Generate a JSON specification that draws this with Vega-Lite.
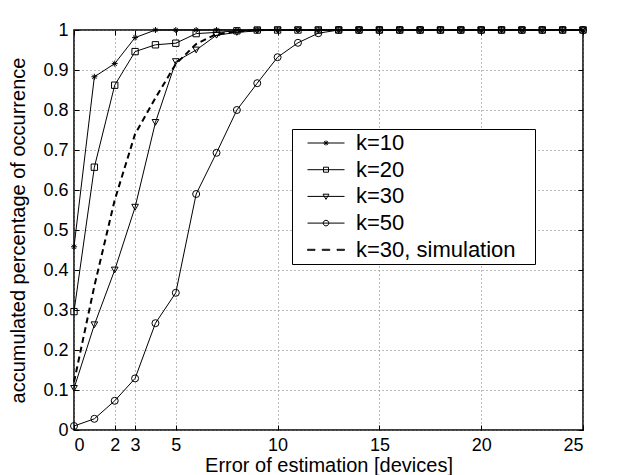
{
  "$schema": "https://vega.github.io/schema/vega-lite/v6.json",
  "width": 509,
  "height": 400,
  "autosize": "none",
  "padding": {"left": 74, "top": 30, "right": 35, "bottom": 45},
  "background": "white",
  "config": {
    "font": "Liberation Sans",
    "view": {"stroke": "black", "strokeWidth": 1.5},
    "axis": {
      "domain": false,
      "labelFontSize": 18,
      "labelColor": "black",
      "titleFontSize": 20,
      "titleFontWeight": "normal",
      "titleColor": "black",
      "tickColor": "black",
      "tickSize": -5,
      "gridColor": "#777",
      "gridDash": [1, 3],
      "gridWidth": 1
    }
  },
  "data": {
    "values": [
      {"s":"k=10","x":0,"y":0.458},{"s":"k=10","x":1,"y":0.883},{"s":"k=10","x":2,"y":0.916},{"s":"k=10","x":3,"y":0.981},{"s":"k=10","x":4,"y":1},{"s":"k=10","x":5,"y":1},{"s":"k=10","x":6,"y":1},{"s":"k=10","x":7,"y":1},{"s":"k=10","x":8,"y":1},{"s":"k=10","x":9,"y":1},{"s":"k=10","x":10,"y":1},{"s":"k=10","x":11,"y":1},{"s":"k=10","x":12,"y":1},{"s":"k=10","x":13,"y":1},{"s":"k=10","x":14,"y":1},{"s":"k=10","x":15,"y":1},{"s":"k=10","x":16,"y":1},{"s":"k=10","x":17,"y":1},{"s":"k=10","x":18,"y":1},{"s":"k=10","x":19,"y":1},{"s":"k=10","x":20,"y":1},{"s":"k=10","x":21,"y":1},{"s":"k=10","x":22,"y":1},{"s":"k=10","x":23,"y":1},{"s":"k=10","x":24,"y":1},{"s":"k=10","x":25,"y":1},
      {"s":"k=20","x":0,"y":0.296},{"s":"k=20","x":1,"y":0.657},{"s":"k=20","x":2,"y":0.862},{"s":"k=20","x":3,"y":0.946},{"s":"k=20","x":4,"y":0.963},{"s":"k=20","x":5,"y":0.967},{"s":"k=20","x":6,"y":0.991},{"s":"k=20","x":7,"y":0.994},{"s":"k=20","x":8,"y":0.998},{"s":"k=20","x":9,"y":1},{"s":"k=20","x":10,"y":1},{"s":"k=20","x":11,"y":1},{"s":"k=20","x":12,"y":1},{"s":"k=20","x":13,"y":1},{"s":"k=20","x":14,"y":1},{"s":"k=20","x":15,"y":1},{"s":"k=20","x":16,"y":1},{"s":"k=20","x":17,"y":1},{"s":"k=20","x":18,"y":1},{"s":"k=20","x":19,"y":1},{"s":"k=20","x":20,"y":1},{"s":"k=20","x":21,"y":1},{"s":"k=20","x":22,"y":1},{"s":"k=20","x":23,"y":1},{"s":"k=20","x":24,"y":1},{"s":"k=20","x":25,"y":1},
      {"s":"k=30","x":0,"y":0.104},{"s":"k=30","x":1,"y":0.263},{"s":"k=30","x":2,"y":0.4},{"s":"k=30","x":3,"y":0.557},{"s":"k=30","x":4,"y":0.769},{"s":"k=30","x":5,"y":0.921},{"s":"k=30","x":6,"y":0.95},{"s":"k=30","x":7,"y":0.987},{"s":"k=30","x":8,"y":0.994},{"s":"k=30","x":9,"y":0.998},{"s":"k=30","x":10,"y":1},{"s":"k=30","x":11,"y":1},{"s":"k=30","x":12,"y":1},{"s":"k=30","x":13,"y":1},{"s":"k=30","x":14,"y":1},{"s":"k=30","x":15,"y":1},{"s":"k=30","x":16,"y":1},{"s":"k=30","x":17,"y":1},{"s":"k=30","x":18,"y":1},{"s":"k=30","x":19,"y":1},{"s":"k=30","x":20,"y":1},{"s":"k=30","x":21,"y":1},{"s":"k=30","x":22,"y":1},{"s":"k=30","x":23,"y":1},{"s":"k=30","x":24,"y":1},{"s":"k=30","x":25,"y":1},
      {"s":"k=50","x":0,"y":0.01},{"s":"k=50","x":1,"y":0.028},{"s":"k=50","x":2,"y":0.073},{"s":"k=50","x":3,"y":0.129},{"s":"k=50","x":4,"y":0.267},{"s":"k=50","x":5,"y":0.343},{"s":"k=50","x":6,"y":0.59},{"s":"k=50","x":7,"y":0.693},{"s":"k=50","x":8,"y":0.8},{"s":"k=50","x":9,"y":0.867},{"s":"k=50","x":10,"y":0.932},{"s":"k=50","x":11,"y":0.968},{"s":"k=50","x":12,"y":0.992},{"s":"k=50","x":13,"y":1},{"s":"k=50","x":14,"y":1},{"s":"k=50","x":15,"y":1},{"s":"k=50","x":16,"y":1},{"s":"k=50","x":17,"y":1},{"s":"k=50","x":18,"y":1},{"s":"k=50","x":19,"y":1},{"s":"k=50","x":20,"y":1},{"s":"k=50","x":21,"y":1},{"s":"k=50","x":22,"y":1},{"s":"k=50","x":23,"y":1},{"s":"k=50","x":24,"y":1},{"s":"k=50","x":25,"y":1},
      {"s":"k=30, simulation","x":0,"y":0.12},{"s":"k=30, simulation","x":1,"y":0.36},{"s":"k=30, simulation","x":2,"y":0.575},{"s":"k=30, simulation","x":3,"y":0.74},{"s":"k=30, simulation","x":4,"y":0.83},{"s":"k=30, simulation","x":5,"y":0.915},{"s":"k=30, simulation","x":6,"y":0.965},{"s":"k=30, simulation","x":7,"y":0.99},{"s":"k=30, simulation","x":8,"y":0.996},{"s":"k=30, simulation","x":9,"y":1},{"s":"k=30, simulation","x":10,"y":1},{"s":"k=30, simulation","x":11,"y":1},{"s":"k=30, simulation","x":12,"y":1},{"s":"k=30, simulation","x":13,"y":1},{"s":"k=30, simulation","x":14,"y":1},{"s":"k=30, simulation","x":15,"y":1},{"s":"k=30, simulation","x":16,"y":1},{"s":"k=30, simulation","x":17,"y":1},{"s":"k=30, simulation","x":18,"y":1},{"s":"k=30, simulation","x":19,"y":1},{"s":"k=30, simulation","x":20,"y":1},{"s":"k=30, simulation","x":21,"y":1},{"s":"k=30, simulation","x":22,"y":1},{"s":"k=30, simulation","x":23,"y":1},{"s":"k=30, simulation","x":24,"y":1},{"s":"k=30, simulation","x":25,"y":1}
    ]
  },
  "layer": [
    {
      "transform": [{"filter": "datum.s !== 'k=30, simulation'"}],
      "mark": {"type": "line", "color": "black", "strokeWidth": 1},
      "encoding": {
        "x": {"field": "x", "type": "quantitative", "scale": {"domain": [0, 25], "nice": false},
              "axis": {"values": [0, 2, 3, 5, 10, 15, 20, 25], "title": "Error of estimation [devices]", "labelPadding": 11, "titlePadding": 1}},
        "y": {"field": "y", "type": "quantitative", "scale": {"domain": [0, 1], "nice": false},
              "axis": {"values": [0, 0.1, 0.2, 0.3, 0.4, 0.5, 0.6, 0.7, 0.8, 0.9, 1], "format": "~g", "title": "accumulated percentage of occurrence", "labelPadding": 11, "titlePadding": 14}},
        "detail": {"field": "s"}
      }
    },
    {
      "transform": [{"filter": "datum.s === 'k=30, simulation'"}],
      "mark": {"type": "line", "color": "black", "strokeWidth": 2, "strokeDash": [6, 4]},
      "encoding": {
        "x": {"field": "x", "type": "quantitative", "scale": {"domain": [0, 25], "nice": false}, "axis": null},
        "y": {"field": "y", "type": "quantitative", "scale": {"domain": [0, 1], "nice": false}, "axis": null}
      }
    },
    {
      "transform": [{"filter": "datum.s !== 'k=30, simulation'"}],
      "mark": {"type": "point", "filled": false, "color": "black", "strokeWidth": 1, "opacity": 1},
      "encoding": {
        "x": {"field": "x", "type": "quantitative", "scale": {"domain": [0, 25], "nice": false}, "axis": null},
        "y": {"field": "y", "type": "quantitative", "scale": {"domain": [0, 1], "nice": false}, "axis": null},
        "shape": {"field": "s", "type": "nominal", "legend": null,
                  "scale": {"domain": ["k=10", "k=20", "k=30", "k=50"],
                            "range": ["M-1,0L1,0M0,-1L0,1M-0.7,-0.7L0.7,0.7M-0.7,0.7L0.7,-0.7", "square", "triangle-down", "circle"]}},
        "size": {"field": "s", "type": "nominal", "legend": null,
                 "scale": {"domain": ["k=10", "k=20", "k=30", "k=50"], "range": [36, 49, 64, 64]}}
      }
    },
    {
      "transform": [{"filter": "false"}],
      "mark": {"type": "point", "filled": false, "color": "black", "strokeWidth": 1, "opacity": 1},
      "encoding": {
        "x": {"field": "x", "type": "quantitative", "scale": {"domain": [0, 25], "nice": false},
              "axis": {"orient": "top", "values": [0, 2, 3, 5, 10, 15, 20, 25], "labels": false, "grid": false, "title": null}},
        "y": {"field": "y", "type": "quantitative", "scale": {"domain": [0, 1], "nice": false},
              "axis": {"orient": "right", "values": [0, 0.1, 0.2, 0.3, 0.4, 0.5, 0.6, 0.7, 0.8, 0.9, 1], "labels": false, "grid": false, "title": null}},
        "shape": {"field": "s", "type": "nominal",
                  "scale": {"domain": ["k=10", "k=20", "k=30", "k=50", "k=30, simulation"],
                            "range": [
                              "M-1.85,0H1.85M0,-0.25V0.25M-0.18,-0.18L0.18,0.18M-0.18,0.18L0.18,-0.18M-0.25,0H0.25",
                              "M-1.85,0H1.85M-0.25,-0.25H0.25V0.25H-0.25Z",
                              "M-1.85,0H1.85M-0.3,-0.22H0.3L0,0.3Z",
                              "M-1.85,0H1.85M-0.28,0A0.28,0.28,0,1,0,0.28,0A0.28,0.28,0,1,0,-0.28,0Z",
                              "M-1.85,-0.05H-1.1V0.05H-1.85ZM-0.38,-0.05H0.38V0.05H-0.38ZM1.1,-0.05H1.85V0.05H1.1Z"
                            ]},
                  "legend": {
                    "orient": "none", "legendX": 218, "legendY": 99, "title": null,
                    "padding": 3, "symbolSize": 400, "symbolOffset": 20, "labelOffset": 19,
                    "labelFontSize": 22, "labelColor": "black", "labelLimit": 400,
                    "strokeColor": "black", "fillColor": "white",
                    "symbolStrokeColor": "black", "symbolStrokeWidth": 1, "symbolFillColor": "transparent",
                    "rowPadding": 4.7,
                    "labelExpr": "datum.label + '\u2800'"
                  }}
      }
    }
  ],
  "resolve": {"scale": {"shape": "independent", "size": "independent"}, "axis": {"x": "independent", "y": "independent"}}
}
